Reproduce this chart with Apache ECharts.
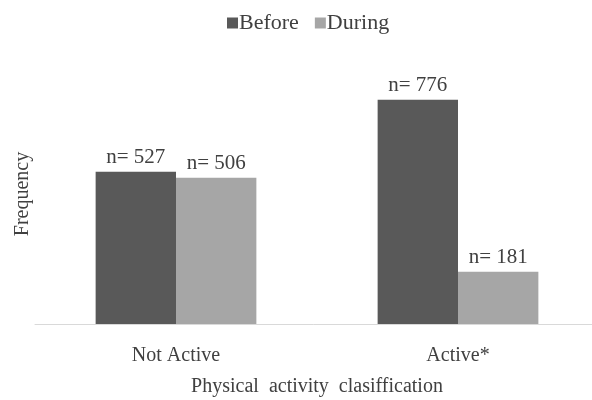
<!DOCTYPE html>
<html>
<head>
<meta charset="utf-8">
<script src="https://cdn.jsdelivr.net/npm/echarts@6/dist/echarts.min.js"></script>
<style>html,body{margin:0;padding:0;background:#fff;}#c{width:592px;height:400px;}</style>
</head>
<body>
<div id="c"></div>
<script>
const categories = ['Not Active', 'Active*'];
const seriesNames = ['Before', 'During'];
const beforeValues = [527, 776];
const duringValues = [506, 181];
const labelPrefix = 'n= ';

const font = '"Liberation Serif", "Times New Roman", serif';
const chart = echarts.init(document.getElementById('c'), null, {renderer: 'canvas'});
const mk = (name, data, color) => ({
  name, type: 'bar', data,
  barGap: '0%', barCategoryGap: '43%',
  itemStyle: {color},
  label: {show: true, position: 'top', distance: 4, formatter: p => labelPrefix + p.value,
          fontFamily: font, fontSize: 21, color: '#404040'}
});
chart.setOption({
  animation: false,
  textStyle: {fontFamily: font},
  legend: {
    data: seriesNames, top: 7, left: 222, itemWidth: 11, itemHeight: 11, itemGap: 16,
    icon: 'rect', textStyle: {fontFamily: font, fontSize: 22, color: '#404040', padding: [0, 0, 0, -4]}
  },
  grid: {left: 35, top: 64, width: 564, height: 260, outerBoundsMode: 'none', containLabel: false},
  xAxis: {
    type: 'category', data: categories,
    axisLine: {lineStyle: {color: '#d9d9d9', width: 1}},
    axisTick: {show: false},
    axisLabel: {fontFamily: font, fontSize: 20, color: '#404040', margin: 22},
    name: 'Physical  activity  clasiffication', nameLocation: 'middle', nameGap: 53,
    nameTextStyle: {fontFamily: font, fontSize: 20, color: '#404040'}
  },
  yAxis: {
    type: 'value', min: 0, max: 900,
    axisLine: {show: false}, axisTick: {show: false}, axisLabel: {show: false}, splitLine: {show: false},
    name: 'Frequency', nameLocation: 'middle', nameGap: 2,
    nameTextStyle: {fontFamily: font, fontSize: 20, color: '#404040'}
  },
  series: [mk(seriesNames[0], beforeValues, '#595959'), mk(seriesNames[1], duringValues, '#a6a6a6')]
});
</script>
</body>
</html>
